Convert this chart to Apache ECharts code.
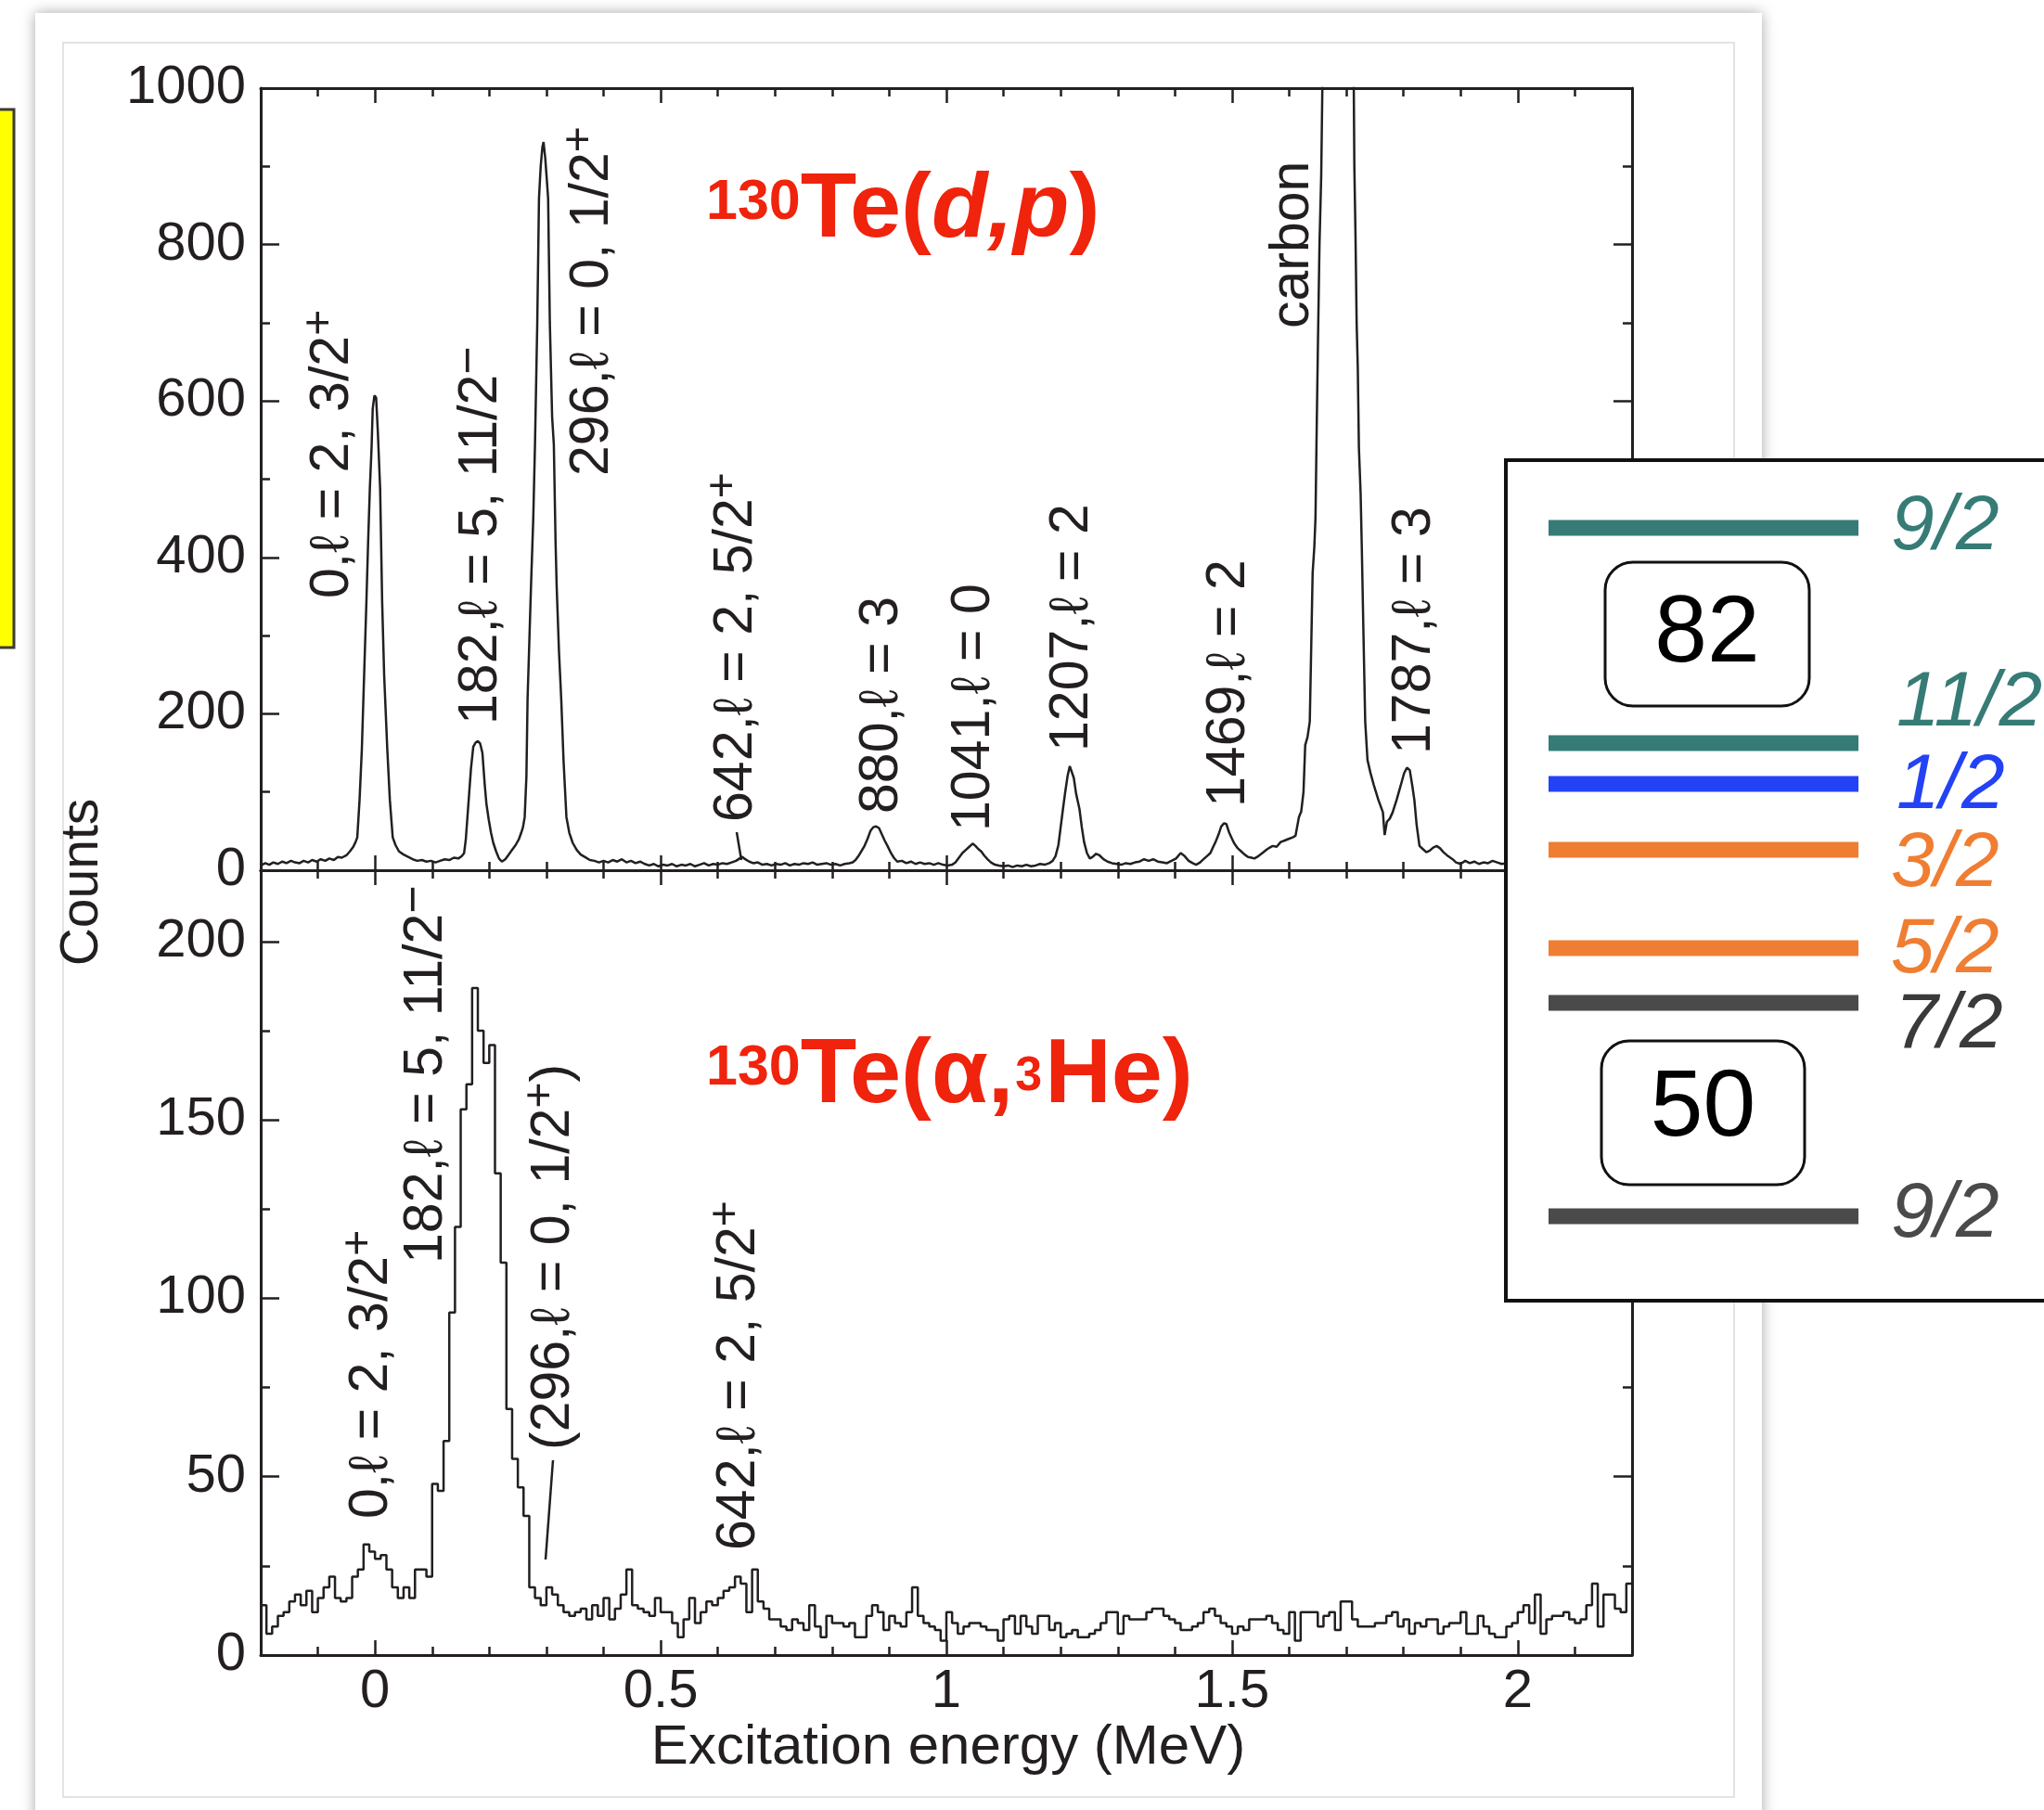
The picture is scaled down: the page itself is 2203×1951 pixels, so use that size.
<!DOCTYPE html>
<html><head><meta charset="utf-8">
<script src="https://cdn.jsdelivr.net/npm/echarts@6/dist/echarts.min.js"></script>
<style>html,body{margin:0;padding:0;background:#fff;}#c{width:2203px;height:1951px;}</style>
</head><body><div id="c"></div>
<script>
// ---------- DATA ----------
// 130Te(d,p) spectrum: [excitation energy (MeV), counts]
const dpPoints = [
[-0.200,6],[-0.192,9],[-0.185,7],[-0.178,10],[-0.170,8],[-0.162,11],[-0.155,9],[-0.147,12],[-0.140,10],[-0.132,9],
[-0.125,12],[-0.117,10],[-0.110,13],[-0.102,11],[-0.095,14],[-0.087,12],[-0.080,15],[-0.072,13],[-0.065,17],[-0.058,16],
[-0.050,19],[-0.044,24],[-0.038,30],[-0.034,36],[-0.031,42],[-0.027,90],[-0.023,155],[-0.019,250],[-0.015,344],[-0.012,420],
[-0.009,488],[-0.006,540],[-0.004,590],[-0.001,607],[0.002,604],[0.005,560],[0.009,488],[0.0125,344],[0.016,250],[0.0215,155],
[0.026,90],[0.031,42],[0.036,32],[0.042,24],[0.050,20],[0.058,17],[0.066,14],[0.074,12],[0.082,13],[0.090,11],
[0.098,12],[0.106,10],[0.114,12],[0.122,14],[0.130,13],[0.138,16],[0.146,15],[0.152,18],[0.156,22],[0.159,40],
[0.162,70],[0.165,100],[0.168,130],[0.172,158],[0.176,163],[0.180,165],[0.184,162],[0.188,150],[0.192,110],[0.195,85],
[0.199,65],[0.203,48],[0.207,35],[0.212,24],[0.217,15],[0.222,11],[0.228,14],[0.234,20],[0.240,26],[0.246,32],
[0.252,40],[0.256,48],[0.259,55],[0.262,68],[0.265,120],[0.267,218],[0.270,290],[0.273,362],[0.277,450],[0.280,544],
[0.284,700],[0.287,859],[0.290,900],[0.293,925],[0.295,931],[0.298,910],[0.301,880],[0.303,859],[0.306,700],[0.310,580],
[0.313,544],[0.316,420],[0.318,362],[0.322,280],[0.326,218],[0.330,140],[0.335,68],[0.340,48],[0.346,35],[0.353,26],
[0.360,20],[0.367,17],[0.376,13],[0.384,12],[0.392,10],[0.400,12],[0.408,10],[0.416,13],[0.424,11],[0.432,14],
[0.440,10],[0.448,12],[0.456,9],[0.464,11],[0.472,8],[0.480,6],[0.488,8],[0.496,5],[0.504,7],[0.512,6],
[0.520,8],[0.528,5],[0.536,7],[0.544,6],[0.552,8],[0.560,5],[0.568,7],[0.576,9],[0.584,6],[0.592,8],
[0.600,7],[0.608,9],[0.616,8],[0.624,10],[0.632,12],[0.638,15],[0.643,17],[0.648,14],[0.655,11],[0.662,9],
[0.670,10],[0.678,7],[0.686,8],[0.694,6],[0.702,8],[0.710,7],[0.718,9],[0.726,6],[0.734,8],[0.742,7],
[0.750,9],[0.758,8],[0.766,10],[0.774,7],[0.782,8],[0.790,9],[0.798,7],[0.806,8],[0.814,6],[0.822,8],
[0.830,9],[0.836,10],[0.841,13],[0.846,18],[0.851,24],[0.856,30],[0.862,40],[0.867,50],[0.872,55],[0.877,56],
[0.882,54],[0.887,46],[0.892,38],[0.897,31],[0.903,22],[0.908,16],[0.914,11],[0.922,12],[0.930,9],[0.938,11],
[0.946,8],[0.954,10],[0.962,8],[0.970,9],[0.978,7],[0.986,9],[0.994,7],[1.002,6],[1.010,7],[1.016,10],
[1.022,16],[1.028,22],[1.034,26],[1.040,30],[1.046,34],[1.051,31],[1.056,27],[1.061,24],[1.066,19],[1.072,14],
[1.078,10],[1.085,7],[1.092,6],[1.100,5],[1.108,6],[1.116,4],[1.124,6],[1.132,5],[1.140,7],[1.148,5],
[1.156,6],[1.164,8],[1.172,7],[1.180,9],[1.186,12],[1.191,18],[1.196,32],[1.200,55],[1.204,78],[1.208,100],
[1.212,120],[1.216,133],[1.219,135],[1.223,118],[1.227,98],[1.230,88],[1.233,78],[1.237,55],[1.241,36],[1.246,22],
[1.251,15],[1.256,17],[1.262,21],[1.268,19],[1.275,14],[1.282,11],[1.290,9],[1.298,8],[1.306,7],[1.314,9],
[1.322,8],[1.330,10],[1.338,11],[1.346,14],[1.354,12],[1.362,14],[1.370,11],[1.378,10],[1.386,9],[1.394,12],
[1.402,15],[1.410,22],[1.417,18],[1.424,12],[1.431,9],[1.437,7],[1.444,10],[1.450,14],[1.456,18],[1.462,22],
[1.467,30],[1.471,36],[1.476,45],[1.481,56],[1.486,60],[1.490,59],[1.495,48],[1.500,40],[1.504,34],[1.510,28],
[1.516,24],[1.522,20],[1.528,17],[1.534,16],[1.539,15],[1.546,18],[1.553,22],[1.560,26],[1.566,29],[1.571,31],
[1.578,30],[1.585,36],[1.592,38],[1.599,40],[1.606,42],[1.611,44],[1.614,43],[1.617,68],[1.621,75],[1.625,100],
[1.628,160],[1.632,170],[1.636,190],[1.641,380],[1.644,414],[1.646,451],[1.648,560],[1.650,660],[1.653,800],[1.656,888],
[1.658,1000],[1.662,1600],[1.685,3000],[1.709,1600],[1.713,1000],[1.714,900],[1.716,813],[1.718,700],[1.720,643],[1.722,540],
[1.725,481],[1.727,414],[1.730,300],[1.733,190],[1.737,141],[1.742,125],[1.748,109],[1.756,90],[1.764,74],[1.767,45],
[1.771,62],[1.776,66],[1.781,74],[1.788,90],[1.795,108],[1.801,124],[1.806,131],[1.811,128],[1.815,110],[1.819,90],
[1.823,58],[1.828,31],[1.834,27],[1.840,23],[1.846,25],[1.852,29],[1.858,31],[1.864,28],[1.870,23],[1.878,18],
[1.886,14],[1.892,10],[1.900,8],[1.908,12],[1.916,9],[1.924,11],[1.932,8],[1.940,10],[1.948,9],[1.956,12],
[1.964,10],[1.972,8],[1.980,9],[1.990,10],[2.000,9]
];

// 130Te(alpha,3He) histogram: 10 keV bins starting at -0.2 MeV
const alphaBinStart = -0.2;
const alphaBinWidth = 0.01;
const alphaCounts = [
14,6,8,11,12,15,17,14,18,12, 16,19,22,16,15,16,22,24,31,29,
27,28,24,19,16,19,16,24,24,22, 48,46,60,96,120,153,160,187,175,166,
171,135,110,69,55,47,39,19,16,14, 19,17,14,12,11,12,13,10,14,11,
16,10,13,17,24,14,13,12,11,16, 12,12,9,5,10,16,9,12,15,14,
16,18,19,22,20,12,24,15,13,10, 10,8,7,10,9,7,14,8,5,11,
9,9,8,9,5,5,11,14,12,7, 11,9,8,12,19,11,9,8,7,4,
12,9,6,8,9,9,8,7,7,4, 10,11,6,11,8,6,11,11,7,9,
5,6,7,5,5,6,7,9,12,12, 6,11,10,10,10,12,13,13,11,10,
9,7,7,8,9,12,13,11,9,8, 6,8,7,10,10,10,11,9,7,6,
12,4,12,12,12,8,11,12,7,15, 15,10,8,8,8,9,9,11,12,8,
10,6,9,8,10,10,6,8,9,9, 12,6,6,11,8,6,5,5,8,9,
12,14,9,17,6,10,11,11,12,10, 9,10,14,20,8,17,17,13,12,20
];

// axis ticks
const xMajorTicks = [0, 0.5, 1, 1.5, 2];
const xMinorTicks = [-0.1, 0.1, 0.2, 0.3, 0.4, 0.6, 0.7, 0.8, 0.9, 1.1, 1.2, 1.3, 1.4, 1.6, 1.7, 1.8, 1.9, 2.1];
const dpYTicks = [0, 200, 400, 600, 800, 1000];
const dpYMinor = [100, 300, 500, 700, 900];
const alphaYTicks = [0, 50, 100, 150, 200];
const alphaYMinor = [25, 75, 125, 175];

// text
const dpPeakLabels = [
  ['0,ℓ = 2, 3/2', '+'], ['182,ℓ = 5, 11/2', '−'], ['296,ℓ = 0, 1/2', '+'], ['642,ℓ = 2, 5/2', '+'],
  ['880,ℓ = 3'], ['1041,ℓ = 0'], ['1207,ℓ = 2'], ['1469,ℓ = 2'], ['carbon'], ['1787,ℓ = 3']
];
const alphaPeakLabels = [
  ['0,ℓ = 2, 3/2', '+'], ['182,ℓ = 5, 11/2', '−'], ['(296,ℓ = 0, 1/2', '+', ')'], ['642,ℓ = 2, 5/2', '+']
];
const shellLabels = ['9/2', '11/2', '1/2', '3/2', '5/2', '7/2', '9/2'];
const magicNumbers = ['82', '50'];
const yAxisTitle = 'Counts';
const xAxisTitle = 'Excitation energy (MeV)';

// ---------- BUILD ----------
const INK = '#231f20';
const RED = '#f0230c';
const FONT = "'Liberation Sans', Arial, Helvetica, sans-serif";
const XMIN = -0.2, XMAX = 2.2;

const alphaData = alphaCounts.map((c, k) => [+(alphaBinStart + k * alphaBinWidth).toFixed(3), c]);
alphaData.push([XMAX, alphaCounts[alphaCounts.length - 1]]);

function xAx(grid, pos, ticks, len, labels) {
  return {
    type: 'value', gridIndex: grid, position: pos, min: XMIN, max: XMAX,
    axisLine: { show: !!(len > 12), onZero: false, lineStyle: { color: INK, width: 3 } },
    axisTick: { show: true, inside: true, length: len, customValues: ticks, lineStyle: { color: INK, width: 2.5 } },
    axisLabel: labels ? { show: true, customValues: xMajorTicks, color: INK, fontSize: 58, fontFamily: FONT, margin: 11 } : { show: false },
    splitLine: { show: false }, minorTick: { show: false }
  };
}
function yAx(grid, pos, max, ticks, len, labels) {
  return {
    type: 'value', gridIndex: grid, position: pos, min: 0, max: max,
    axisLine: { show: !!(len > 12), onZero: false, lineStyle: { color: INK, width: 3 } },
    axisTick: { show: true, inside: true, length: len, customValues: ticks, lineStyle: { color: INK, width: 2.5 } },
    axisLabel: labels ? { show: true, customValues: labels, formatter: v => String(v), color: INK, fontSize: 58, fontFamily: FONT, margin: 16 } : { show: false },
    splitLine: { show: false }, minorTick: { show: false }
  };
}

const mctx = document.createElement('canvas').getContext('2d');
function fontStr(p) { return (p.style || 'normal') + ' ' + (p.weight || 'normal') + ' ' + p.size + 'px ' + FONT; }
function measure(p) { mctx.font = fontStr(p); return mctx.measureText(p.text).width; }
function textEl(p, x, y, rot, align) {
  return { type: 'text', x: x, y: y, rotation: rot || 0, z: p.z || 20, silent: true,
    style: { text: p.text, font: fontStr(p), fill: p.color || INK,
      align: align || 'left', verticalAlign: 'middle', textAlign: align || 'left', textVerticalAlign: 'middle' } };
}
const MID = 0.3465;
function hRun(pieces, x0, baseY) {
  let x = x0; const out = [];
  pieces.forEach(p => { out.push(textEl(p, x + (p.pre || 0), baseY - (p.raise || 0) - MID * p.size)); x += (p.pre || 0) + measure(p) + (p.post || 0); });
  return out;
}
function vRun(pieces, baseX, y0) {
  let y = y0; const out = [];
  pieces.forEach(p => { out.push(textEl(p, baseX - (p.raise || 0) - MID * p.size, y, Math.PI / 2)); y -= measure(p); });
  return out;
}
const ANN = 59;
function annPieces(parts) {
  return parts.map(t => t === '+' ? { text: t, size: 48, raise: 18 }
    : t === '−' ? { text: t, size: 52, raise: 14 } : { text: t, size: ANN });
}

const G = [];
// page panel
G.push({ type: 'rect', z: -30, silent: true, shape: { x: 38, y: 14, width: 1861, height: 2000 },
  style: { fill: '#ffffff', shadowBlur: 14, shadowColor: 'rgba(0,0,0,0.35)' } });
G.push({ type: 'rect', z: -29, silent: true, shape: { x: 68, y: 46, width: 1801, height: 1891 },
  style: { fill: 'none', stroke: '#e3e3e3', lineWidth: 2 } });
// yellow note box at left edge
G.push({ type: 'rect', z: -28, silent: true, shape: { x: -4, y: 118, width: 19, height: 580 },
  style: { fill: '#ffff00', stroke: '#3a3a3a', lineWidth: 3 } });

// peak annotations (top panel)
const dpAnnPos = [[379, 645], [539, 781], [659, 513], [814, 886], [971, 877], [1070, 896], [1176, 810], [1345, 870], [1414, 354], [1545, 813]];
dpPeakLabels.forEach((parts, i) => G.push(...vRun(annPieces(parts), dpAnnPos[i][0], dpAnnPos[i][1])));
const alphaAnnPos = [[421, 1637], [480, 1362], [617, 1563], [817, 1671]];
alphaPeakLabels.forEach((parts, i) => G.push(...vRun(annPieces(parts), alphaAnnPos[i][0], alphaAnnPos[i][1])));
// leader lines
G.push({ type: 'line', z: 20, silent: true, shape: { x1: 794, y1: 897, x2: 799, y2: 927 }, style: { stroke: INK, lineWidth: 2.5 } });
G.push({ type: 'line', z: 20, silent: true, shape: { x1: 596, y1: 1574, x2: 588, y2: 1681 }, style: { stroke: INK, lineWidth: 2.5 } });

// reaction titles
G.push(...hRun([
  { text: '130', size: 61, weight: 'bold', raise: 22, color: RED },
  { text: 'Te(', size: 99, weight: 'bold', color: RED },
  { text: 'd,p', size: 99, weight: 'bold', style: 'italic', color: RED },
  { text: ')', size: 99, weight: 'bold', color: RED }], 761, 262));
G.push(...hRun([
  { text: '130', size: 61, weight: 'bold', raise: 22, color: RED },
  { text: 'Te(α,', size: 99, weight: 'bold', color: RED },
  { text: '3', size: 52, weight: 'bold', raise: 16, color: RED, pre: 2, post: 3 },
  { text: 'He)', size: 99, weight: 'bold', color: RED }], 761, 1195));

// axis titles
G.push(textEl({ text: yAxisTitle, size: 57 }, 109 - MID * 57, 951, Math.PI / 2, 'center'));
G.push(textEl({ text: xAxisTitle, size: 60 }, 1022, 1905 - MID * 60, 0, 'center'));

// inset: shell-model level scheme
G.push({ type: 'rect', z: 100, silent: true, shape: { x: 1623, y: 496, width: 700, height: 906 },
  style: { fill: '#ffffff', stroke: '#111111', lineWidth: 4 } });
const barY = [569, 801, 845, 916, 1022, 1081, 1311];
const barColor = ['#367b76', '#367b76', '#2342f5', '#ef7e33', '#ef7e33', '#4a4a4a', '#4a4a4a'];
const lblColor = ['#367b76', '#367b76', '#2342f5', '#ef7e33', '#ef7e33', '#3a3a3a', '#4a4a4a'];
const lblX = [2038, 2044, 2044, 2038, 2038, 2042, 2038];
const lblBase = [598, 788, 877, 961, 1054, 1135, 1339];
shellLabels.forEach((t, i) => {
  G.push({ type: 'rect', z: 101, silent: true, shape: { x: 1669, y: barY[i] - 8.5, width: 334, height: 17 }, style: { fill: barColor[i] } });
  G.push(...hRun([{ text: t, size: 84, style: 'italic', color: lblColor[i], z: 102 }], lblX[i], lblBase[i]));
});
const magicBox = [[1730, 606, 220, 155], [1726, 1122, 219, 155]];
const magicBase = [720, 1231];
magicNumbers.forEach((t, i) => {
  const b = magicBox[i];
  G.push({ type: 'rect', z: 101, silent: true, shape: { x: b[0], y: b[1], width: b[2], height: b[3], r: 30 },
    style: { fill: 'none', stroke: '#111111', lineWidth: 3 } });
  G.push(textEl({ text: t, size: 102, color: '#000', z: 102 }, b[0] + b[2] / 2, magicBase[i] - MID * 102, 0, 'center'));
});

const option = {
  animation: false,
  backgroundColor: '#ffffff',
  grid: [
    { left: 281, top: 95, width: 1478, height: 843 },
    { left: 281, top: 95, width: 1478, height: 843 },
    { left: 281, top: 938, width: 1478, height: 846 },
    { left: 281, top: 938, width: 1478, height: 846 }
  ],
  xAxis: [
    xAx(0, 'bottom', xMajorTicks, 16, false), xAx(0, 'top', xMajorTicks, 16, false),
    xAx(1, 'bottom', xMinorTicks, 9, false), xAx(1, 'top', xMinorTicks, 9, false),
    xAx(2, 'bottom', xMajorTicks, 16, true), xAx(2, 'top', xMajorTicks, 16, false),
    xAx(3, 'bottom', xMinorTicks, 9, false), xAx(3, 'top', xMinorTicks, 9, false)
  ],
  yAxis: [
    yAx(0, 'left', 1000, dpYTicks, 20, dpYTicks), yAx(0, 'right', 1000, dpYTicks, 20, null),
    yAx(1, 'left', 1000, dpYMinor, 10, null), yAx(1, 'right', 1000, dpYMinor, 10, null),
    yAx(2, 'left', 220, alphaYTicks, 20, alphaYTicks), yAx(2, 'right', 220, alphaYTicks, 20, null),
    yAx(3, 'left', 220, alphaYMinor, 10, null), yAx(3, 'right', 220, alphaYMinor, 10, null)
  ],
  series: [
    { type: 'line', name: '130Te(d,p)', xAxisIndex: 0, yAxisIndex: 0, data: dpPoints, showSymbol: false, clip: true,
      lineStyle: { color: INK, width: 2.5 }, z: 5 },
    { type: 'line', name: '130Te(α,3He)', xAxisIndex: 4, yAxisIndex: 4, data: alphaData, step: 'end', showSymbol: false, clip: true,
      lineStyle: { color: INK, width: 2.5 }, z: 5 }
  ],
  graphic: { elements: G }
};
const chart = echarts.init(document.getElementById('c'), null, { renderer: 'canvas' });
chart.setOption(option);
</script></body></html>
